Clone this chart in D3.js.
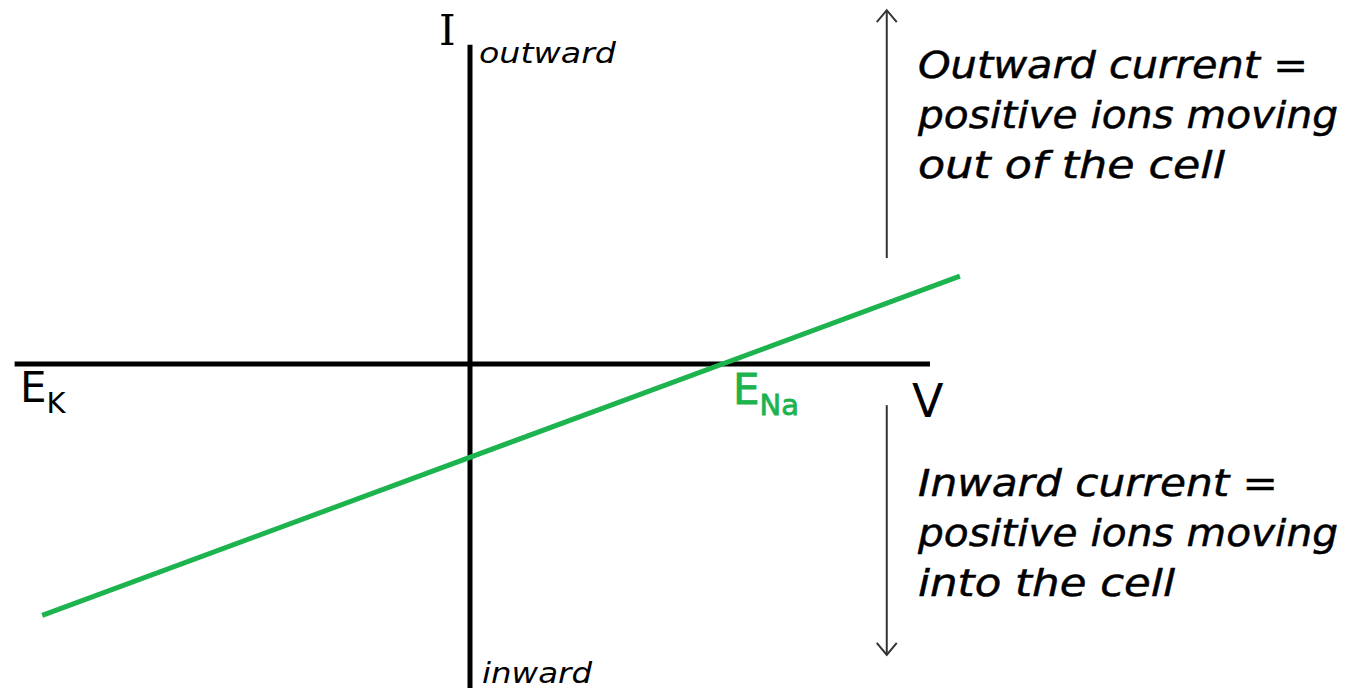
<!DOCTYPE html>
<html>
<head>
<meta charset="utf-8">
<script src="https://cdn.jsdelivr.net/npm/d3@7"></script>
<style>
  body { margin: 0; background: #fff; }
  text { font-family: "Comic Sans MS", "DejaVu Sans", sans-serif; }
</style>
</head>
<body>
<div id="chart"></div>
<script>
// axis extents (membrane potential in mV, current in arbitrary units)
var vExtent = [-99, 100];
var iExtent = [-1, 0.985];

// Na+ I-V relation (straight line through E_Na)
var naVoltage = [-93, 106.5];
var naCurrent = [-0.776, 0.271];
var eNa = 55;

// direction arrows
var arrowV = 90.6;
var outwardArrow = [0.327, 1.092];
var inwardArrow = [-0.127, -0.898];

var outwardText = ["Outward current =", "positive ions moving", "out of the cell"];
var inwardText = ["Inward current =", "positive ions moving", "into the cell"];
var outwardWidths = [390, 420, 307];
var inwardWidths = [360, 420, 257];

var width = 1350, height = 691;
var green = "#1db34f";

var svg = d3.select("#chart").append("svg")
    .attr("width", width)
    .attr("height", height);

var x = d3.scaleLinear()
    .domain([-100, 100])
    .range([10, 930]);

var y = d3.scaleLinear()
    .domain([-1, 1])
    .range([688, 40]);

// arrow head marker
svg.append("defs").append("marker")
    .attr("id", "head")
    .attr("viewBox", "-13 -11 15 22")
    .attr("refX", 0)
    .attr("refY", 0)
    .attr("markerWidth", 15)
    .attr("markerHeight", 22)
    .attr("markerUnits", "userSpaceOnUse")
    .attr("orient", "auto")
    .append("path")
    .attr("d", "M-12,-10 L0,0 L-12,10")
    .attr("fill", "none")
    .attr("stroke", "#333")
    .attr("stroke-width", 2);

// axes
svg.append("line")
    .attr("x1", x(vExtent[0])).attr("x2", x(vExtent[1]))
    .attr("y1", y(0)).attr("y2", y(0))
    .attr("stroke", "#000").attr("stroke-width", 5);

svg.append("line")
    .attr("x1", x(0)).attr("x2", x(0))
    .attr("y1", y(iExtent[0])).attr("y2", y(iExtent[1]))
    .attr("stroke", "#000").attr("stroke-width", 5);

// Na line
var line = d3.line()
    .x(function (d) { return x(d[0]); })
    .y(function (d) { return y(d[1]); });

svg.append("path")
    .datum(d3.zip(naVoltage, naCurrent))
    .attr("d", line)
    .attr("fill", "none")
    .attr("stroke", green)
    .attr("stroke-width", 5);

// arrows
[outwardArrow, inwardArrow].forEach(function (a) {
    svg.append("line")
        .attr("x1", x(arrowV)).attr("x2", x(arrowV))
        .attr("y1", y(a[0])).attr("y2", y(a[1]))
        .attr("stroke", "#333")
        .attr("stroke-width", 2)
        .attr("marker-end", "url(#head)");
});

// axis labels
svg.append("text")
    .attr("x", x(0) - 31).attr("y", 45)
    .attr("font-size", 42)
    .style("font-family", "'DejaVu Serif', serif")
    .text("I");

svg.append("text")
    .attr("x", x(0) + 9).attr("y", 63)
    .attr("font-size", 28).attr("font-style", "italic")
    .attr("textLength", 137).attr("lengthAdjust", "spacingAndGlyphs")
    .text("outward");

svg.append("text")
    .attr("x", x(0) + 12).attr("y", 683)
    .attr("font-size", 28).attr("font-style", "italic")
    .attr("textLength", 110).attr("lengthAdjust", "spacingAndGlyphs")
    .text("inward");

svg.append("text")
    .attr("x", 912).attr("y", 417)
    .attr("font-size", 46)
    .text("V");

var ek = svg.append("text")
    .attr("x", 20).attr("y", 402)
    .attr("font-size", 42);
ek.append("tspan").text("E");
ek.append("tspan").attr("font-size", 29).attr("dy", 11).text("K");

var ena = svg.append("text")
    .attr("x", x(eNa) + 10).attr("y", 404)
    .attr("font-size", 42)
    .attr("fill", green)
    .attr("stroke", green)
    .attr("stroke-width", 0.8);
ena.append("tspan").text("E");
ena.append("tspan").attr("font-size", 29).attr("dy", 11).text("Na");

// explanation text
function block(lines, widths, top) {
    svg.append("g").selectAll("text")
        .data(lines)
        .enter()
        .append("text")
        .attr("x", 918)
        .attr("y", function (d, i) { return top + i * 50; })
        .attr("font-size", 38)
        .attr("font-style", "italic")
        .attr("stroke", "#000")
        .attr("stroke-width", 0.5)
        .attr("textLength", function (d, i) { return widths[i]; })
        .attr("lengthAdjust", "spacingAndGlyphs")
        .text(function (d) { return d; });
}
block(outwardText, outwardWidths, 78);
block(inwardText, inwardWidths, 496);
</script>
</body>
</html>
